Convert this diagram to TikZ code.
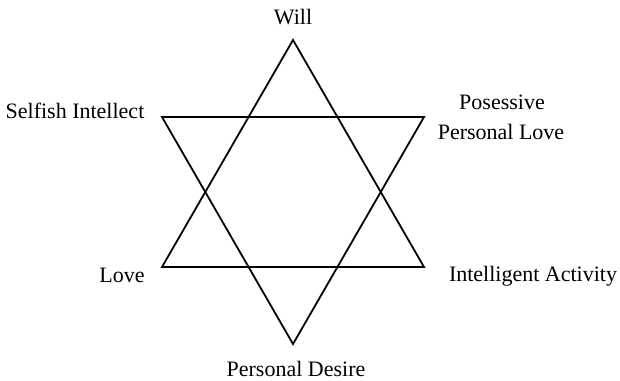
\documentclass[tikz,border=0pt]{standalone}
\usepackage{fontspec}
\setmainfont{Liberation Serif}
\usetikzlibrary{positioning}

\begin{document}
\begin{tikzpicture}[x=0.5pt, y=-0.5pt,
  lbl/.style={font=\fontsize{11}{15.5}\selectfont, inner sep=0pt, anchor=base},
  edge/.style={line width=0.9pt, line join=miter}]
  \useasboundingbox (0,0) rectangle (620,380);

  % Star corners
  \coordinate (top) at (293,40);
  \coordinate (lowleft) at (162,267);
  \coordinate (lowright) at (424,267);
  \coordinate (upleft) at (162,117);
  \coordinate (upright) at (424,117);
  \coordinate (bottom) at (293,344);

  % Upward triangle
  \draw[edge] (top) -- (lowleft) -- (lowright) -- cycle;

  % Downward triangle
  \draw[edge] (upleft) -- (upright) -- (bottom) -- cycle;

  % Labels
  \node[lbl] (will) at (293,25) {Will};
  \node[lbl] (selfish) at (75,118) {Selfish Intellect};
  \node[lbl] (posessive) at (502,109) {Posessive};
  \node[lbl] (personallove) at (501,139) {Personal Love};
  \node[lbl] (love) at (122,282) {Love};
  \node[lbl] (activity) at (533,281) {Intelligent Activity};
  \node[lbl] (desire) at (296,376) {Personal Desire};
\end{tikzpicture}
\end{document}
